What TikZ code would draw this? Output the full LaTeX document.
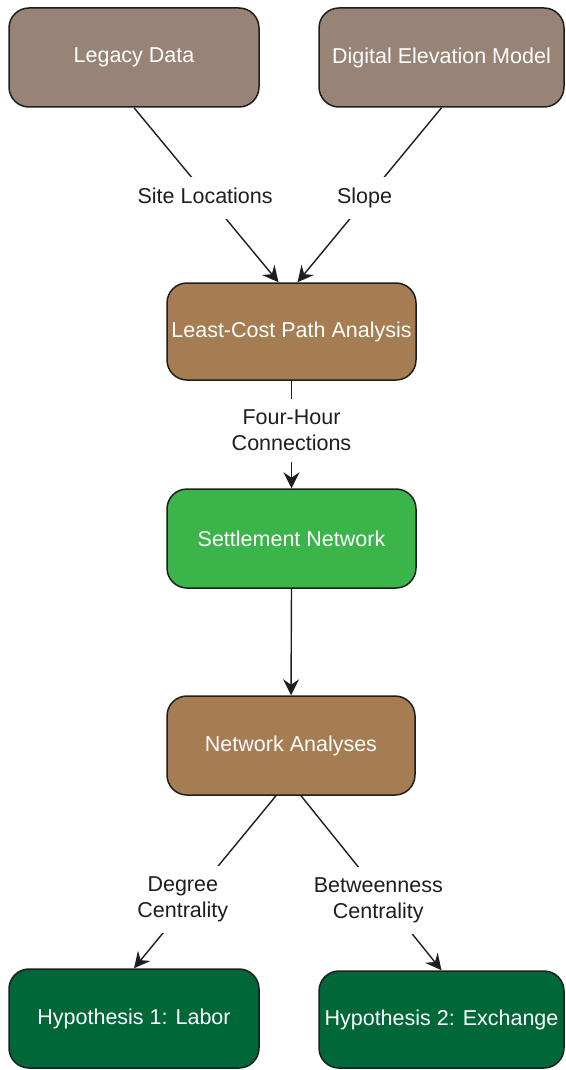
\documentclass[tikz,border=0pt]{standalone}
\usepackage{fontspec}
\setmainfont{Liberation Sans}
\usetikzlibrary{arrows.meta,calc}
\definecolor{greybrown}{RGB}{152,132,118}
\definecolor{brown}{RGB}{166,124,82}
\definecolor{lightgreen}{RGB}{59,181,74}
\definecolor{darkgreen}{RGB}{0,104,56}
\definecolor{ink}{RGB}{30,30,30}
\begin{document}
\begin{tikzpicture}[x=1pt,y=-1pt,
  box/.style={rectangle, rounded corners=20pt, draw=ink, line width=1.5pt,
    inner sep=0pt, minimum height=99pt, text=white,
    font=\fontsize{21.5}{26}\selectfont},
  lab/.style={fill=white, inner xsep=3pt, inner ysep=11pt, text=ink, align=center,
    font=\fontsize{21.5}{26}\selectfont},
  onelab/.style={lab, text height=15.5pt, text depth=4.5pt},
  conn/.style={draw=ink, line width=1.4pt},
  arr/.style={conn, -{Stealth[length=16pt,width=16pt,inset=5.5pt]}}
]
\useasboundingbox (0,0) rectangle (565,1070);
\node[box, fill=greybrown, minimum width=250pt] (legacy) at (134,57.5) {Legacy Data};
\node[box, fill=greybrown, minimum width=245pt] (dem) at (441.5,57.5) {Digital Elevation Model};
\node[box, fill=brown, minimum width=249pt, minimum height=97pt] (lcp) at (291.5,331.5) {Least-Cost Path Analysis};
\node[box, fill=lightgreen, minimum width=249pt] (sn) at (291.5,538.5) {Settlement Network};
\node[box, fill=brown, minimum width=248pt] (na) at (291,745.5) {Network Analyses};
\node[box, fill=darkgreen, minimum width=250pt] (h1) at (134,1018.5) {Hypothesis 1: Labor};
\node[box, fill=darkgreen, minimum width=245pt, minimum height=97pt] (h2) at (441.5,1019.5) {Hypothesis 2: Exchange};

\coordinate (lcpL) at ($(lcp.north)+(-13,0)$);
\coordinate (lcpR) at ($(lcp.north)+(6,0)$);
\coordinate (naL) at ($(na.south)+(-15,0)$);
\coordinate (naR) at ($(na.south)+(10,0)$);

\draw[arr] (legacy.south) -- node[onelab, pos=0.52, xshift=-4pt] (sl) {Site Locations} (lcpL);
\draw[arr] (dem.south) -- node[onelab, pos=0.52, xshift=-2pt] (sp) {Slope} (lcpR);
\draw[arr] (lcp.south) -- node[lab, pos=0.46] (fh) {Four-Hour\\Connections} (sn.north);
\draw[arr] (sn.south) -- (na.north);
\draw[arr] (naL) -- node[lab, pos=0.6, xshift=-8pt] (dc) {Degree\\Centrality} (h1.north);
\draw[arr] (naR) -- node[lab, pos=0.6, xshift=-7pt] (bc) {Betweenness\\Centrality} (h2.north);
\end{tikzpicture}
\end{document}
